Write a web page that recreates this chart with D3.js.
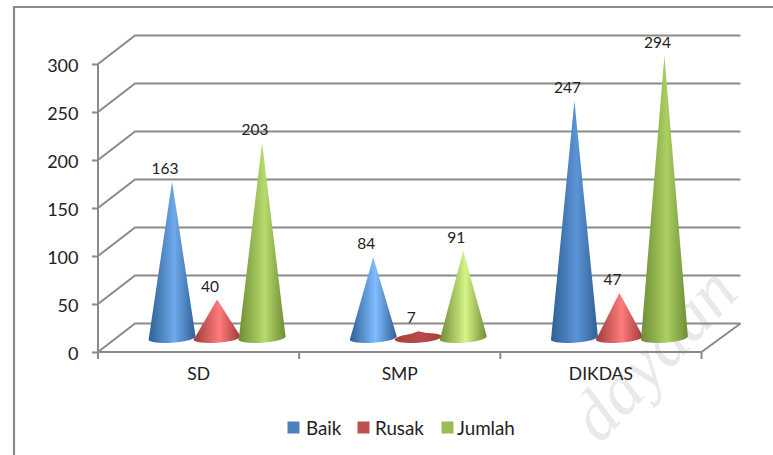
<!DOCTYPE html>
<html><head><meta charset="utf-8">
<script src="https://cdn.jsdelivr.net/npm/d3@7"></script>
<style>html,body{margin:0;padding:0;background:#fff;overflow:hidden}svg{display:block}text{font-family:"Lato",sans-serif;fill:#222}</style>
</head><body><svg id="c" width="773" height="455"></svg>
<script>
const categories = ["SD","SMP","DIKDAS"];
const seriesNames = ["Baik","Rusak","Jumlah"];
const baik = [163,84,247];
const rusak = [40,7,47];
const jumlah = [203,91,294];
const yTicks = [0,50,100,150,200,250,300];
const seriesValues = [baik,rusak,jumlah];
const legendColors = ["#4f81bd","#c0504d","#9bbb59"];
const edgeColors = ["#2f5f95","#9c3a38","#6f8c35"];
const centerTall = ["#5b94d6","#d96a68","#aad062"];
const centerShort = ["#80bdff","#ff7b7b","#d6f788"];

const svg = d3.select("#c");
const x0=98,x1=701.5,yBase=352,yTop=64,depthX=37,depthY=-28.5;
const y = d3.scaleLinear().domain([0,300]).range([yBase,yTop]);
const x = d3.scaleBand().domain(categories).range([x0,x1]);
const inner = d3.scaleBand().domain(seriesNames).range([-67.5,67.5]);
const gridColor="#8a8a8a";

// frame
svg.append("path").attr("d","M14,455V7H773").attr("fill","none").attr("stroke",gridColor).attr("stroke-width",2.2);

// watermark
svg.append("text").attr("transform","translate(600,445) rotate(-47)")
  .style("font-family","'Liberation Serif',serif").style("font-style","italic")
  .style("font-size","70px").style("fill","#e9e9e9").text("dayaan");

// walls
const grid=svg.append("g").attr("fill","none").attr("stroke",gridColor).attr("stroke-width",2);
yTicks.forEach(t=>{
  const yy=y(t);
  grid.append("path").attr("d",`M${x0},${yy}L${x0+depthX},${yy+depthY}L${x1+depthX+2},${yy+depthY}`);
});
grid.append("path").attr("d",`M${x0},${yBase}H${x1}L${x1+depthX+2},${yBase+depthY}`);
grid.append("path").attr("d",`M${x0},${yTop}V${yBase}`);
[0,1,2,3].forEach(i=>grid.append("path").attr("d",`M${x0+i*x.step()},${yBase}v7`));

// axes
const yAxis=svg.append("g").attr("transform",`translate(${x0},1.5)`).call(d3.axisLeft(y).tickValues(yTicks).tickSize(0).tickPadding(19.5));
yAxis.select(".domain").remove();
yAxis.selectAll("text").style("font-size","18px");
const yTickMarks=svg.append("g").attr("transform",`translate(${x0},0)`).call(d3.axisLeft(y).tickValues(yTicks).tickSize(6).tickFormat(""));
yTickMarks.select(".domain").remove();
yTickMarks.selectAll("line").attr("stroke",gridColor).attr("stroke-width",2);
const xAxis=svg.append("g").attr("transform",`translate(0,${yBase})`).call(d3.axisBottom(x).tickSize(0).tickPadding(16));
xAxis.select(".domain").remove();
xAxis.selectAll("text").style("font-size","17.5px");

// cones
const defs=svg.append("defs");
const rx=23.5,ry=4.8,tilt=-4,baseOffset=14,shiftX=18.5;
const shade=d3.scaleLinear().domain([84,247]).range([0,1]).clamp(true);
seriesNames.forEach((s,si)=>{
  categories.forEach((c,ci)=>{
    const v=seriesValues[si][ci];
    const cx=x(c)+x.bandwidth()/2+shiftX+inner(s)+inner.bandwidth()/2;
    const by=y(0)-baseOffset, ty=y(v)-baseOffset;
    const id=`g${si}${ci}`;
    const flat=v<10;
    const mid=flat?d3.color(legendColors[si]).darker(0.15).formatHex()
             :d3.interpolateRgb(centerShort[si],centerTall[si])(si===1?0:shade(v));
    const edge=flat?"#a83f3d":edgeColors[si];
    const g=defs.append("linearGradient").attr("id",id).attr("gradientUnits","userSpaceOnUse")
      .attr("x1",cx-rx).attr("x2",cx+rx).attr("y1",0).attr("y2",0);
    [[0,edge],[0.55,mid],[1,edge]].forEach(p=>g.append("stop").attr("offset",p[0]).attr("stop-color",p[1]));
    const dy=rx*Math.sin(tilt*Math.PI/180), dx=rx*Math.cos(tilt*Math.PI/180);
    const L=[cx-dx,by-dy],R=[cx+dx,by+dy];
    const m=svg.append("g").attr("fill",`url(#${id})`);
    m.append("path").attr("d",`M${L}L${cx},${ty}L${R}Z`);
    m.append("path").attr("d",`M${L}A${rx},${ry} ${tilt} 1 0 ${R}A${rx},${ry} ${tilt} 1 0 ${L}Z`);
    svg.append("text").attr("x",cx-7).attr("y",ty-14).attr("text-anchor","middle")
      .attr("dominant-baseline","central").style("font-size","15.5px").text(v);
  });
});

// legend
const legendX=[[287.5,306],[357.5,375],[441.5,457]];
const lg=svg.append("g");
seriesNames.forEach((s,i)=>{
  lg.append("rect").attr("x",legendX[i][0]).attr("y",421.5).attr("width",12).attr("height",12).attr("fill",legendColors[i]);
  lg.append("text").attr("x",legendX[i][1]).attr("y",427.5).attr("dominant-baseline","central").style("font-size","18.8px").text(s);
});
</script></body></html>
